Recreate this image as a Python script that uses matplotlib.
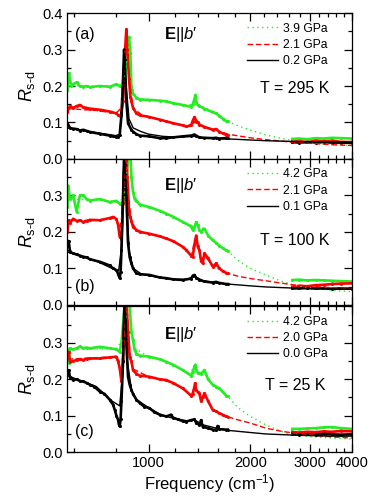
import matplotlib
matplotlib.use("Agg")
import matplotlib.pyplot as plt
from matplotlib.lines import Line2D
from matplotlib.ticker import FixedLocator, MultipleLocator, NullFormatter, FuncFormatter

plt.rcParams['font.family'] = ['Liberation Sans', 'DejaVu Sans']
plt.rcParams['mathtext.fontset'] = 'custom'
plt.rcParams['mathtext.rm'] = 'Liberation Sans'
plt.rcParams['mathtext.it'] = 'Liberation Sans:italic'
plt.rcParams['mathtext.bf'] = 'Liberation Sans:bold'

# high frequency measured points (shared frequency grid)
hi_f = [2666, 2789, 2950, 3123, 3300, 3498, 3700, 4000]

# ---------------- panel (a), T = 295 K ----------------
a_blk_f = [575, 585, 598, 612, 626, 640, 655, 670, 717, 767, 785, 803, 812, 821, 831, 840, 846, 850, 859, 869,
           889, 899, 920, 941, 1005, 1078, 1128, 1180, 1263, 1336, 1367, 1383, 1414, 1463, 1548, 1584, 1620, 1695, 1714]
a_blk_R = [0.098, 0.085, 0.083, 0.082, 0.078, 0.080, 0.077, 0.074, 0.069, 0.064, 0.062, 0.060, 0.061, 0.066, 0.12,
           0.22, 0.30, 0.27, 0.16, 0.098, 0.08, 0.075, 0.068, 0.064, 0.062, 0.057, 0.057, 0.059, 0.062, 0.064, 0.067,
           0.064, 0.059, 0.058, 0.057, 0.058, 0.056, 0.057, 0.057]
a_blk_hi = [0.046, 0.045, 0.046, 0.045, 0.046, 0.045, 0.045, 0.044]
a_blk_fit_f = [575, 700, 800, 821, 835, 846, 858, 875, 900, 950, 1000, 1100, 1200, 1300, 1370, 1450, 1600, 1714,
               2000, 2224, 2666, 3123, 3500, 4000]
a_blk_fit_R = [0.085, 0.072, 0.064, 0.068, 0.15, 0.29, 0.2, 0.11, 0.085, 0.075, 0.068, 0.062, 0.06, 0.061, 0.062,
               0.058, 0.056, 0.055, 0.052, 0.050, 0.048, 0.046, 0.045, 0.044]

a_red_f = [575, 585, 598, 612, 626, 640, 655, 670, 717, 767, 803, 812, 821, 831, 840, 846, 852, 859, 865, 875, 883,
           889, 899, 920, 941, 1005, 1078, 1128, 1180, 1263, 1292, 1336, 1351, 1367, 1383, 1398, 1414, 1463, 1548,
           1584, 1620, 1660, 1695, 1714]
a_red_R = [0.13, 0.145, 0.14, 0.145, 0.148, 0.142, 0.14, 0.138, 0.135, 0.13, 0.125, 0.12, 0.118, 0.125, 0.16, 0.22,
           0.30, 0.355, 0.3, 0.22, 0.17, 0.16, 0.14, 0.125, 0.12, 0.115, 0.108, 0.103, 0.098, 0.092, 0.089, 0.092,
           0.105, 0.115, 0.105, 0.1, 0.094, 0.088, 0.08, 0.082, 0.074, 0.07, 0.066, 0.065]
a_red_hi = [0.047, 0.049, 0.046, 0.050, 0.048, 0.050, 0.047, 0.046]
a_red_fit_f = [575, 700, 800, 830, 845, 859, 875, 900, 950, 1000, 1100, 1200, 1300, 1370, 1450, 1600, 1714, 2000,
               2224, 2666, 3123, 3500, 4000]
a_red_fit_R = [0.138, 0.133, 0.125, 0.14, 0.25, 0.34, 0.22, 0.14, 0.122, 0.116, 0.106, 0.098, 0.09, 0.1, 0.09,
               0.078, 0.068, 0.058, 0.053, 0.046, 0.042, 0.039, 0.037]

a_grn_f = [575, 580, 590, 598, 612, 626, 640, 655, 670, 717, 767, 803, 821, 840, 850, 859, 865, 875, 883, 889, 899,
           920, 941, 1005, 1078, 1128, 1180, 1263, 1336, 1351, 1367, 1376, 1383, 1398, 1414, 1463, 1548, 1584, 1620,
           1660, 1695, 1714]
a_grn_R = [0.19, 0.235, 0.2, 0.205, 0.21, 0.2, 0.198, 0.2, 0.197, 0.2, 0.198, 0.205, 0.2, 0.205, 0.22, 0.27, 0.31,
           0.335, 0.29, 0.2, 0.178, 0.168, 0.163, 0.162, 0.16, 0.158, 0.153, 0.148, 0.143, 0.15, 0.165, 0.175, 0.155,
           0.148, 0.145, 0.138, 0.128, 0.125, 0.118, 0.11, 0.104, 0.103]
a_grn_hi = [0.055, 0.056, 0.054, 0.057, 0.056, 0.058, 0.057, 0.056]
a_grn_fit_f = [575, 700, 800, 840, 860, 875, 890, 920, 1000, 1100, 1200, 1300, 1370, 1450, 1600, 1714, 1850, 2000,
               2224, 2450, 2666, 3123, 3500, 4000]
a_grn_fit_R = [0.2, 0.2, 0.2, 0.205, 0.26, 0.32, 0.2, 0.168, 0.162, 0.158, 0.152, 0.145, 0.155, 0.142, 0.125,
               0.103, 0.09, 0.079, 0.066, 0.057, 0.05, 0.043, 0.04, 0.036]

# ---------------- panel (b), T = 100 K ----------------
b_blk_f = [575, 580, 585, 598, 612, 626, 640, 655, 670, 717, 767, 785, 803, 812, 821, 826, 831, 840, 846, 850, 859,
           869, 879, 889, 899, 920, 941, 1005, 1078, 1128, 1180, 1263, 1336, 1351, 1367, 1383, 1414, 1463, 1548,
           1584, 1620, 1695, 1714]
b_blk_R = [0.16, 0.175, 0.145, 0.141, 0.138, 0.135, 0.132, 0.13, 0.125, 0.118, 0.108, 0.1, 0.095, 0.085, 0.073,
           0.09, 0.15, 0.3, 0.41, 0.42, 0.3, 0.17, 0.13, 0.114, 0.1, 0.086, 0.084, 0.082, 0.075, 0.073, 0.07, 0.068,
           0.072, 0.08, 0.082, 0.074, 0.068, 0.064, 0.061, 0.063, 0.06, 0.057, 0.057]
b_blk_hi = [0.045, 0.045, 0.046, 0.045, 0.045, 0.044, 0.045, 0.044]
b_blk_fit_f = [575, 700, 800, 815, 830, 846, 860, 875, 900, 950, 1000, 1100, 1200, 1300, 1370, 1450, 1600, 1714,
               2000, 2224, 2666, 3123, 3500, 4000]
b_blk_fit_R = [0.145, 0.12, 0.095, 0.093, 0.15, 0.41, 0.3, 0.15, 0.1, 0.085, 0.08, 0.074, 0.07, 0.07, 0.078,
               0.066, 0.06, 0.057, 0.052, 0.049, 0.046, 0.044, 0.043, 0.043]

b_red_f = [575, 580, 585, 598, 612, 626, 640, 655, 670, 717, 767, 785, 803, 812, 821, 831, 840, 850, 859, 865, 875,
           883, 889, 899, 920, 941, 1005, 1078, 1128, 1180, 1263, 1292, 1336, 1351, 1367, 1383, 1398, 1414, 1430,
           1446, 1463, 1500, 1548, 1570, 1584, 1620, 1660, 1695, 1714]
b_red_R = [0.2, 0.232, 0.225, 0.236, 0.23, 0.232, 0.227, 0.23, 0.233, 0.232, 0.238, 0.241, 0.235, 0.22, 0.186,
           0.18, 0.28, 0.42, 0.42, 0.35, 0.25, 0.24, 0.23, 0.214, 0.205, 0.2, 0.195, 0.188, 0.182, 0.175, 0.159,
           0.15, 0.135, 0.132, 0.165, 0.19, 0.16, 0.15, 0.12, 0.114, 0.141, 0.128, 0.105, 0.11, 0.114, 0.1, 0.092,
           0.088, 0.086]
b_red_hi = [0.050, 0.052, 0.051, 0.054, 0.055, 0.057, 0.058, 0.059]
b_red_fit_f = [575, 700, 800, 820, 835, 855, 870, 890, 920, 1000, 1100, 1200, 1300, 1340, 1370, 1400, 1430, 1463,
               1548, 1714, 1850, 2000, 2224, 2450, 2666, 3123, 3500, 4000]
b_red_fit_R = [0.23, 0.232, 0.238, 0.2, 0.25, 0.42, 0.3, 0.23, 0.205, 0.195, 0.185, 0.172, 0.15, 0.135, 0.18,
               0.16, 0.12, 0.135, 0.108, 0.086, 0.078, 0.072, 0.066, 0.06, 0.055, 0.05, 0.047, 0.045]

b_grn_f = [575, 578, 585, 598, 612, 626, 640, 655, 670, 717, 767, 803, 821, 840, 850, 859, 869, 875, 883, 889, 899,
           909, 920, 941, 1005, 1078, 1128, 1180, 1263, 1336, 1351, 1367, 1383, 1398, 1414, 1430, 1463, 1500, 1548,
           1584, 1620, 1660, 1695, 1714]
b_grn_R = [0.268, 0.327, 0.29, 0.3, 0.255, 0.3, 0.3, 0.29, 0.286, 0.29, 0.282, 0.285, 0.277, 0.28, 0.3, 0.35, 0.4,
           0.42, 0.42, 0.35, 0.31, 0.29, 0.286, 0.275, 0.268, 0.258, 0.25, 0.242, 0.227, 0.215, 0.205, 0.213, 0.227,
           0.218, 0.205, 0.2, 0.209, 0.19, 0.177, 0.17, 0.162, 0.155, 0.15, 0.148]
b_grn_hi = [0.068, 0.069, 0.067, 0.068, 0.067, 0.066, 0.065, 0.064]
b_grn_fit_f = [575, 700, 800, 845, 865, 880, 900, 930, 1000, 1100, 1200, 1300, 1370, 1400, 1463, 1548, 1714, 1850,
               2000, 2224, 2450, 2666, 2900, 3123, 3500, 4000]
b_grn_fit_R = [0.29, 0.288, 0.283, 0.29, 0.38, 0.42, 0.31, 0.28, 0.268, 0.255, 0.24, 0.222, 0.215, 0.222, 0.205,
               0.178, 0.148, 0.12, 0.1, 0.082, 0.066, 0.055, 0.048, 0.045, 0.04, 0.036]

# ---------------- panel (c), T = 25 K ----------------
c_blk_f = [575, 580, 585, 598, 612, 626, 640, 655, 670, 690, 717, 740, 767, 785, 794, 803, 812, 817, 821, 826, 831,
           840, 846, 850, 859, 869, 879, 889, 899, 920, 941, 970, 1005, 1040, 1078, 1128, 1166, 1180, 1220, 1263,
           1292, 1336, 1367, 1383, 1414, 1430, 1446, 1500, 1548, 1584, 1600, 1620, 1695, 1714]
c_blk_R = [0.216, 0.225, 0.205, 0.198, 0.2, 0.195, 0.194, 0.19, 0.185, 0.18, 0.166, 0.16, 0.144, 0.13, 0.116, 0.1,
           0.089, 0.075, 0.071, 0.09, 0.14, 0.25, 0.38, 0.42, 0.3, 0.207, 0.185, 0.171, 0.16, 0.144, 0.135, 0.125,
           0.121, 0.11, 0.103, 0.098, 0.103, 0.095, 0.09, 0.085, 0.084, 0.088, 0.09, 0.08, 0.075, 0.088, 0.07,
           0.066, 0.062, 0.06, 0.072, 0.063, 0.062, 0.062]
c_blk_hi = [0.050, 0.048, 0.049, 0.048, 0.050, 0.049, 0.048, 0.049]
c_blk_fit_f = [575, 700, 780, 821, 835, 848, 865, 890, 920, 1000, 1100, 1200, 1300, 1370, 1450, 1600, 1714, 2000,
               2224, 2666, 3123, 3500, 4000]
c_blk_fit_R = [0.21, 0.18, 0.14, 0.127, 0.2, 0.42, 0.25, 0.17, 0.145, 0.122, 0.1, 0.092, 0.086, 0.088, 0.075,
               0.065, 0.06, 0.054, 0.05, 0.047, 0.045, 0.044, 0.044]

c_red_f = [575, 580, 585, 598, 612, 626, 640, 655, 670, 717, 767, 803, 812, 821, 831, 840, 850, 859, 869, 879, 889,
           899, 920, 941, 1005, 1078, 1128, 1180, 1263, 1336, 1351, 1367, 1373, 1383, 1398, 1414, 1430, 1446, 1463,
           1500, 1548, 1584, 1620, 1660, 1695, 1714]
c_red_R = [0.27, 0.275, 0.248, 0.25, 0.253, 0.255, 0.253, 0.256, 0.257, 0.257, 0.26, 0.262, 0.25, 0.23, 0.194, 0.25,
           0.4, 0.42, 0.33, 0.26, 0.25, 0.225, 0.215, 0.21, 0.207, 0.2, 0.198, 0.19, 0.175, 0.155, 0.16, 0.18, 0.189,
           0.17, 0.165, 0.162, 0.14, 0.15, 0.162, 0.14, 0.116, 0.112, 0.107, 0.102, 0.098, 0.097]
c_red_hi = [0.055, 0.054, 0.056, 0.055, 0.057, 0.056, 0.058, 0.057]
c_red_fit_f = [575, 800, 830, 845, 860, 880, 900, 1000, 1100, 1200, 1300, 1340, 1373, 1410, 1430, 1463, 1548, 1714,
               1850, 2000, 2224, 2450, 2666, 3123, 3500, 4000]
c_red_fit_R = [0.255, 0.262, 0.22, 0.3, 0.42, 0.27, 0.228, 0.207, 0.198, 0.188, 0.165, 0.155, 0.185, 0.16, 0.145,
               0.16, 0.118, 0.097, 0.088, 0.08, 0.066, 0.058, 0.053, 0.046, 0.042, 0.039]

c_grn_f = [575, 580, 585, 598, 612, 626, 640, 655, 670, 717, 767, 803, 821, 831, 840, 850, 859, 869, 879, 889, 899,
           909, 920, 941, 1005, 1078, 1128, 1180, 1263, 1336, 1351, 1367, 1376, 1383, 1398, 1414, 1430, 1463, 1500,
           1548, 1584, 1620, 1660, 1695, 1714]
c_grn_R = [0.28, 0.244, 0.285, 0.282, 0.285, 0.29, 0.285, 0.287, 0.285, 0.289, 0.285, 0.282, 0.275, 0.3, 0.35, 0.4,
           0.42, 0.42, 0.4, 0.33, 0.307, 0.28, 0.27, 0.265, 0.262, 0.255, 0.248, 0.24, 0.225, 0.21, 0.22, 0.235,
           0.24, 0.225, 0.218, 0.216, 0.215, 0.225, 0.2, 0.185, 0.18, 0.175, 0.165, 0.155, 0.153]
c_grn_hi = [0.064, 0.064, 0.065, 0.066, 0.068, 0.069, 0.066, 0.064]
c_grn_fit_f = [575, 800, 840, 870, 890, 910, 1000, 1100, 1200, 1300, 1376, 1430, 1463, 1548, 1714, 1850, 2000, 2224,
               2450, 2666, 3123, 3500, 4000]
c_grn_fit_R = [0.283, 0.283, 0.31, 0.42, 0.33, 0.285, 0.262, 0.252, 0.238, 0.218, 0.23, 0.215, 0.222, 0.185,
               0.153, 0.12, 0.098, 0.075, 0.058, 0.048, 0.041, 0.039, 0.036]

panel_tags = ['(a)', '(b)', '(c)']
temps = ['T = 295 K', 'T = 100 K', 'T = 25 K']
pressures = [['3.9 GPa', '2.1 GPa', '0.2 GPa'],
             ['4.2 GPa', '2.1 GPa', '0.1 GPa'],
             ['4.2 GPa', '2.0 GPa', '0.0 GPa']]

GREEN = '#22ee22'
RED = '#ff0000'
BLACK = '#000000'

series = [
    [(a_grn_f, a_grn_R, a_grn_hi, a_grn_fit_f, a_grn_fit_R),
     (a_red_f, a_red_R, a_red_hi, a_red_fit_f, a_red_fit_R),
     (a_blk_f, a_blk_R, a_blk_hi, a_blk_fit_f, a_blk_fit_R)],
    [(b_grn_f, b_grn_R, b_grn_hi, b_grn_fit_f, b_grn_fit_R),
     (b_red_f, b_red_R, b_red_hi, b_red_fit_f, b_red_fit_R),
     (b_blk_f, b_blk_R, b_blk_hi, b_blk_fit_f, b_blk_fit_R)],
    [(c_grn_f, c_grn_R, c_grn_hi, c_grn_fit_f, c_grn_fit_R),
     (c_red_f, c_red_R, c_red_hi, c_red_fit_f, c_red_fit_R),
     (c_blk_f, c_blk_R, c_blk_hi, c_blk_fit_f, c_blk_fit_R)],
]
colors = [GREEN, RED, BLACK]
styles = [(0, (1, 2.5)), (0, (4, 2)), '-']

fig = plt.figure(figsize=(3.74, 5.03), dpi=100)
left, width = 0.179, 0.762
bottoms = [0.684, 0.394, 0.101]
h = 0.290

for i in range(3):
    ax = fig.add_axes([left, bottoms[i], width, h])
    ax.set_xscale('log')
    for k in range(3):
        lf, lR, hR, ff, fR = series[i][k]
        ax.plot(lf, lR, color=colors[k], lw=1.9, marker='o', ms=2.2, mew=0)
        ax.plot(hi_f, hR, color=colors[k], lw=1.9, marker='o', ms=2.2, mew=0)
    for k in range(3):
        lf, lR, hR, ff, fR = series[i][k]
        ax.plot(ff, fR, color=colors[k], lw=1.0, linestyle=styles[k])

    ax.set_xlim(573, 4000)
    ax.set_ylim(0, 0.4)
    ax.xaxis.set_major_locator(FixedLocator([1000, 2000, 3000, 4000]))
    ax.xaxis.set_minor_locator(MultipleLocator(200))
    ax.xaxis.set_minor_formatter(NullFormatter())
    if i == 2:
        ax.xaxis.set_major_formatter(FuncFormatter(lambda v, p: '%d' % v))
        ax.set_xlabel('Frequency (cm$^{-1}$)', fontsize=12, labelpad=1)
    else:
        ax.xaxis.set_major_formatter(NullFormatter())
    ax.yaxis.set_major_locator(MultipleLocator(0.1))
    ax.yaxis.set_minor_locator(MultipleLocator(0.05))
    if i == 0:
        ax.set_yticks([0.0, 0.1, 0.2, 0.3, 0.4])
    else:
        ax.set_yticks([0.0, 0.1, 0.2, 0.3])
    ax.yaxis.set_major_formatter(FuncFormatter(lambda v, p: '%.1f' % v))
    ax.tick_params(which='both', direction='in', top=True, right=True, labelsize=10.5, width=0.9)
    ax.tick_params(which='major', length=5.5, pad=3)
    ax.tick_params(which='minor', length=3)
    for s in ax.spines.values():
        s.set_linewidth(0.9)
    ax.set_ylabel('$R_{\\mathrm{s\u2010d}}$', fontsize=13, labelpad=4)

    handles = [Line2D([], [], color=colors[k], lw=1.0, linestyle=styles[k]) for k in range(3)]
    ax.legend(handles, pressures[i], loc='upper right', bbox_to_anchor=(0.94, 0.985), frameon=False,
              fontsize=8.7, handlelength=2.6, handletextpad=0.4, labelspacing=0.35, borderaxespad=0.2)

    ax.text(0.40, [0.855, 0.82, 0.81][i], "$\\mathbf{E}||\\mathit{b}$\u2032", transform=ax.transAxes,
            fontsize=12, ha='center', va='center')
    ax.text(0.8, [0.486, 0.44, 0.456][i], temps[i], transform=ax.transAxes, fontsize=11.5,
            ha='center', va='center')
    ax.text(0.03, [0.855, 0.125, 0.14][i], panel_tags[i], transform=ax.transAxes, fontsize=11.5,
            ha='left', va='center')

fig.savefig('out.png', dpi=100)
